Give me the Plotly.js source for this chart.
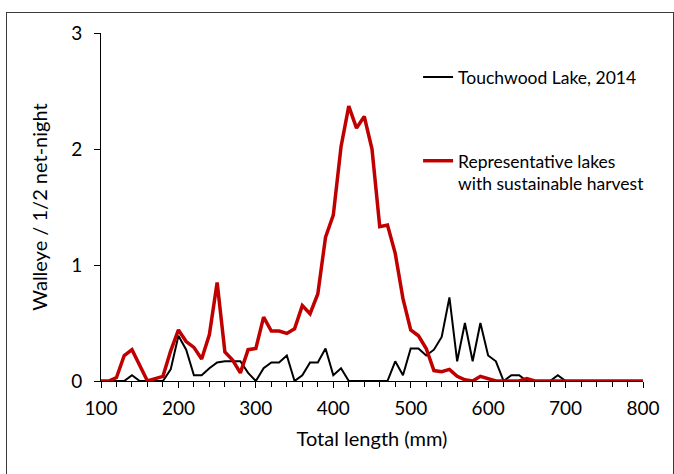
<!DOCTYPE html>
<html>
<head>
<meta charset="utf-8">
<script src="https://cdn.plot.ly/plotly-3.0.1.min.js"></script>
<style>
  html, body { margin: 0; padding: 0; background: #fff; }
  #wrap { position: relative; width: 674px; height: 474px; overflow: hidden; }
  #chart { position: absolute; left: 0; top: 0; width: 674px; height: 474px; }
  #frame { position: absolute; left: 6px; top: 12px; width: 666px; height: 480px;
           border: 1.5px solid #3a3a3a; pointer-events: none; }
</style>
</head>
<body>
<div id="wrap">
  <div id="chart"></div>
  <div id="frame"></div>
</div>
<script>
// Total length (mm), 10-mm bins
const lengths = [100,110,120,130,140,150,160,170,180,190,
                 200,210,220,230,240,250,260,270,280,290,
                 300,310,320,330,340,350,360,370,380,390,
                 400,410,420,430,440,450,460,470,480,490,
                 500,510,520,530,540,550,560,570,580,590,
                 600,610,620,630,640,650,660,670,680,690,
                 700,710,720,730,740,750,760,770,780,790,800];

// Touchwood Lake, 2014
const touchwood = [0,0,0,0,0.05,0,0,0,0,0.10,
                   0.39,0.27,0.05,0.05,0.11,0.16,0.17,0.17,0.17,0.07,
                   0,0.11,0.16,0.16,0.22,0,0.05,0.16,0.16,0.28,
                   0.05,0.11,0,0,0,0,0,0,0.17,0.05,
                   0.28,0.28,0.22,0.27,0.38,0.72,0.17,0.50,0.17,0.50,
                   0.22,0.17,0,0.05,0.05,0,0,0,0,0.05,
                   0,0,0,0,0,0,0,0,0,0,0];

// Representative lakes with sustainable harvest
const representative = [0,0,0.03,0.22,0.27,0.14,0,0.02,0.04,0.26,
                        0.44,0.34,0.29,0.19,0.40,0.85,0.25,0.18,0.07,0.27,
                        0.28,0.55,0.43,0.43,0.41,0.45,0.65,0.58,0.75,1.24,
                        1.43,2.02,2.37,2.18,2.28,2.00,1.33,1.345,1.10,0.71,
                        0.44,0.39,0.28,0.09,0.08,0.10,0.04,0.01,0,0.04,
                        0.02,0,0,0,0,0.02,0,0,0,0,
                        0,0,0,0,0,0,0,0,0,0,0];

const seriesNames = ["Touchwood Lake, 2014", "Representative lakes<br>with sustainable harvest"];
const xTicks = [100,200,300,400,500,600,700,800];
const yTicks = [0,1,2,3];

const FONT = "Lato, 'Open Sans', sans-serif";

const traces = [
  { x: lengths, y: touchwood, type: "scatter", mode: "lines", name: seriesNames[0],
    legendgroup: "a", line: { color: "#000000", width: 2 } },
  { x: lengths, y: representative, type: "scatter", mode: "lines", name: seriesNames[1],
    legendgroup: "b", line: { color: "#C00000", width: 3.5 } }
];

const layout = {
  width: 674, height: 474,
  margin: { l: 101, r: 31, t: 33, b: 93, pad: 0, autoexpand: false },
  paper_bgcolor: "#ffffff", plot_bgcolor: "#ffffff",
  font: { family: FONT, size: 17, color: "#000000" },
  showlegend: true,
  legend: {
    x: 0.585, y: 0.925, xanchor: "left", yanchor: "top",
    bgcolor: "rgba(0,0,0,0)", borderwidth: 0,
    font: { family: FONT, size: 17.5, color: "#000000" },
    traceorder: "grouped", tracegroupgap: 58, valign: "top",
    itemwidth: 30
  },
  xaxis: {
    range: [100, 800], tickvals: xTicks, ticktext: xTicks.map(String),
    showgrid: false, zeroline: false, showline: true, linecolor: "#000000", linewidth: 1,
    ticks: "outside", ticklen: 6, tickcolor: "#000000", tickwidth: 1,
    minor: { dtick: 20, tick0: 100, ticks: "outside", ticklen: 5, tickcolor: "#000000", tickwidth: 1, showgrid: false },
    tickfont: { family: FONT, size: 19 },
    ticklabelstandoff: 4,
    title: { text: "Total length (mm)", font: { family: FONT, size: 20 }, standoff: 14 },
    fixedrange: true
  },
  yaxis: {
    range: [0, 3], tickvals: yTicks, ticktext: yTicks.map(String),
    showgrid: false, zeroline: false, showline: true, linecolor: "#000000", linewidth: 1,
    ticks: "outside", ticklen: 6, tickcolor: "#000000", tickwidth: 1,
    tickfont: { family: FONT, size: 19 },
    ticklabelstandoff: 8,
    title: { text: "Walleye / 1/2 net-night", font: { family: FONT, size: 20 }, standoff: 18 },
    fixedrange: true
  }
};

Plotly.newPlot("chart", traces, layout, { displayModeBar: false, staticPlot: true });
</script>
</body>
</html>
